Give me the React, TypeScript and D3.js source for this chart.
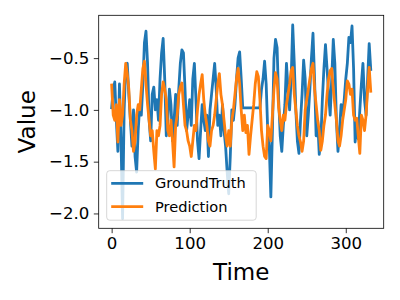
import React, { useRef, useEffect } from "react";
import * as d3 from "d3";

// sampled every 2 time steps, t = 0..332
const STEP = 2;

const groundTruth = [
  -0.98, -0.8, -0.73, -1.1, -1.4, -0.75, -1.3, -2.05, -1.0, -0.6,
  -0.55, -0.85, -1.1, -1.35, -1.0, -1.45, -1.6, -1.2, -0.95, -1.05,
  -0.75, -0.35, -0.24, -0.55, -1.1, -1.3, -0.85, -0.78, -1.0, -0.9,
  -1.1, -0.7, -0.45, -0.31, -0.7, -1.25, -1.1, -0.8, -0.95, -1.3,
  -1.1, -0.85, -1.15, -0.8, -0.55, -0.42, -0.45, -0.8, -1.2, -1.05,
  -0.9, -1.15, -0.7, -0.55, -0.9, -1.3, -1.47, -1.2, -0.95, -1.1,
  -1.2, -1.05, -1.45, -1.0, -0.85, -0.7, -0.55, -0.8, -1.15, -1.05,
  -1.25, -0.95, -1.2, -1.35, -1.6, -1.81, -1.45, -1.0, -1.1, -0.95,
  -0.7, -0.5, -0.44, -0.7, -0.98, -0.98, -0.98, -0.98, -0.98, -0.98,
  -0.98, -0.98, -0.98, -0.98, -0.98, -0.98, -0.8, -0.7, -0.53, -0.75,
  -1.2, -1.35, -1.84, -1.2, -0.5, -0.32, -0.4, -0.9, -1.25, -1.4,
  -1.15, -0.95, -0.55, -0.8, -1.0, -0.7, -0.18, -0.55, -1.0, -1.3,
  -1.42, -1.1, -0.85, -0.52, -0.7, -1.25, -1.05, -0.8, -0.5, -0.26,
  -0.7, -1.25, -1.1, -1.43, -1.3, -0.9, -0.6, -0.37, -0.6, -0.85,
  -1.05, -0.7, -0.32, -0.55, -1.1, -1.4, -1.2, -0.95, -1.05, -0.9,
  -0.7, -0.55, -0.3, -0.35, -0.19, -0.6, -1.31, -1.1, -1.28, -1.0,
  -0.75, -0.55, -0.9, -1.05, -0.7, -0.36, -0.61,
];

const prediction = [
  -0.76, -1.05, -1.1, -0.95, -1.31, -0.9, -1.15, -1.05, -0.75, -0.55,
  -0.65, -0.8, -1.1, -1.2, -1.4, -1.3, -1.05, -0.95, -1.0, -0.8,
  -0.6, -0.53, -0.75, -0.95, -1.1, -1.25, -1.2, -1.4, -1.57, -1.2,
  -1.25, -1.15, -0.85, -0.73, -0.8, -0.9, -1.2, -1.25, -1.1, -1.3,
  -1.55, -1.15, -1.05, -0.85, -0.78, -0.74, -0.95, -1.15, -1.2, -1.3,
  -1.35, -1.45, -1.3, -1.15, -1.2, -1.0, -0.85, -0.75, -0.66, -0.9,
  -1.05, -1.15, -1.3, -1.35, -1.2, -1.15, -1.05, -0.9, -0.75, -0.65,
  -0.85, -0.95, -1.1, -1.25, -1.35, -1.2, -1.35, -1.1, -1.0, -0.85,
  -0.7, -0.6, -0.75, -1.0, -1.2, -1.05, -1.22, -1.15, -1.43, -1.25,
  -1.1, -0.95, -0.75, -0.63, -0.68, -0.9, -1.2, -1.35, -1.45, -1.47,
  -1.15, -1.2, -1.3, -1.05, -0.8, -0.64, -0.7, -0.98, -1.1, -1.2,
  -1.05, -1.1, -0.95, -0.85, -0.75, -0.62, -0.59, -0.85, -1.0, -1.15,
  -1.25, -1.31, -1.4, -1.3, -1.0, -0.9, -0.8, -0.7, -0.6, -0.55,
  -0.8, -0.95, -1.1, -1.2, -1.39, -1.3, -1.15, -1.05, -0.85, -0.7,
  -0.62, -0.6, -0.8, -0.95, -1.1, -1.3, -1.35, -1.25, -1.1, -1.0,
  -0.9, -0.72, -0.75, -0.85, -0.8, -1.05, -1.1, -1.08, -1.25, -1.42,
  -1.05, -1.1, -1.2, -1.05, -0.8, -0.59, -0.82,
];

const xTicks = [0, 100, 200, 300];
const yTicks = [-2.0, -1.5, -1.0, -0.5];

const series = [
  { name: "GroundTruth", values: groundTruth, color: "#1f77b4" },
  { name: "Prediction", values: prediction, color: "#ff7f0e" },
];

const W = 400;
const H = 300;
const margin = { top: 15.3, right: 16.3, bottom: 71.7, left: 98.7 };
const FONT = "DejaVu Sans, sans-serif";

const App = () => {
  const svgRef = useRef(null);

  useEffect(() => {
    const svg = d3.select(svgRef.current);
    svg.selectAll("*").remove();

    const xMax = (groundTruth.length - 1) * STEP;
    const xPad = xMax * 0.05;
    const x = d3
      .scaleLinear()
      .domain([-xPad, xMax + xPad])
      .range([margin.left, W - margin.right]);

    const all = groundTruth.concat(prediction);
    const lo = d3.min(all);
    const hi = d3.max(all);
    const yPad = (hi - lo) * 0.05;
    const y = d3
      .scaleLinear()
      .domain([lo - yPad, hi + yPad])
      .range([H - margin.bottom, margin.top]);

    // lines
    const line = d3
      .line()
      .x((d, i) => x(i * STEP))
      .y((d) => y(d));

    const plot = svg.append("g");
    series.forEach((s) => {
      plot
        .append("path")
        .datum(s.values)
        .attr("fill", "none")
        .attr("stroke", s.color)
        .attr("stroke-width", 2.8)
        .attr("stroke-linejoin", "round")
        .attr("stroke-linecap", "square")
        .attr("d", line);
    });

    // axes
    const fmt = (v) => d3.format(".1f")(v).replace("-", "\u2212");
    const xAxis = svg
      .append("g")
      .attr("transform", `translate(0,${H - margin.bottom})`)
      .call(d3.axisBottom(x).tickValues(xTicks).tickSize(4.9).tickPadding(4.5));
    const yAxis = svg
      .append("g")
      .attr("transform", `translate(${margin.left},0)`)
      .call(
        d3.axisLeft(y).tickValues(yTicks).tickFormat(fmt).tickSize(4.9).tickPadding(4.5)
      );
    [xAxis, yAxis].forEach((a) => {
      a.select(".domain").remove();
      a.selectAll("line").attr("stroke", "#000").attr("stroke-width", 0.8);
      a.selectAll("text")
        .attr("fill", "#000")
        .style("font-family", FONT)
        .style("font-size", "16.6px");
    });

    // frame
    svg
      .append("rect")
      .attr("x", margin.left)
      .attr("y", margin.top)
      .attr("width", W - margin.left - margin.right)
      .attr("height", H - margin.top - margin.bottom)
      .attr("fill", "none")
      .attr("stroke", "#000")
      .attr("stroke-width", 0.8);

    // axis labels
    svg
      .append("text")
      .attr("x", (margin.left + W - margin.right) / 2)
      .attr("y", 280)
      .attr("text-anchor", "middle")
      .style("font-family", FONT)
      .style("font-size", "23px")
      .text("Time");

    svg
      .append("text")
      .attr("transform", `translate(35,${(margin.top + H - margin.bottom) / 2}) rotate(-90)`)
      .attr("text-anchor", "middle")
      .style("font-family", FONT)
      .style("font-size", "23px")
      .text("Value");

    // legend
    const leg = svg.append("g").attr("transform", "translate(106.7,170.7)");
    leg
      .append("rect")
      .attr("width", 149.5)
      .attr("height", 49.5)
      .attr("rx", 3)
      .attr("fill", "#fff")
      .attr("fill-opacity", 0.8)
      .attr("stroke", "#ccc")
      .attr("stroke-width", 0.8);
    series.forEach((s, i) => {
      const row = leg.append("g").attr("transform", `translate(0,${12.6 + i * 23.4})`);
      row
        .append("line")
        .attr("x1", 4.5)
        .attr("x2", 36.5)
        .attr("stroke", s.color)
        .attr("stroke-width", 2.8);
      row
        .append("text")
        .attr("x", 48.3)
        .attr("dy", "0.35em")
        .style("font-family", FONT)
        .style("font-size", "14.6px")
        .text(s.name);
    });
  }, []);

  return (
    <svg
      ref={svgRef}
      width={W}
      height={H}
      style={{ position: "absolute", left: 0, top: 0, background: "#fff" }}
    ></svg>
  );
};

export default App;
